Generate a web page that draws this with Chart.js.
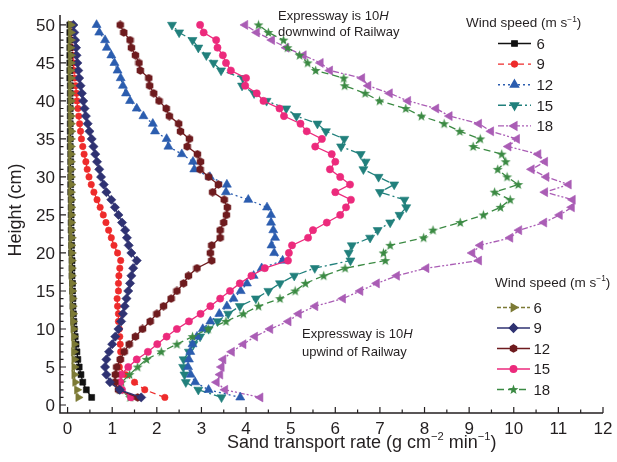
<!DOCTYPE html>
<html>
<head>
<meta charset="utf-8">
<script src="https://cdn.jsdelivr.net/npm/chart.js@4.4.1/dist/chart.umd.min.js"></script>
<style>
  html, body { margin: 0; padding: 0; background: #fff; }
  canvas { display: block; }
</style>
</head>
<body>
<canvas id="profile" width="617" height="462"></canvas>
<script>
// height above the surface (cm)
var heights = [1,2,3,4,5,6,7,8,9,10,11,12,13,14,15,16,17,18,19,20,21,22,23,24,25,
               26,27,28,29,30,31,32,33,34,35,36,37,38,39,40,41,42,43,44,45,46,47,48,49,50];

// sand transport rate (g cm-2 min-1), Expressway 10H downwind of Railway
var down6  = [0.54,0.42,0.34,0.30,0.26,0.23,0.21,0.19,0.17,0.15, 0.14,0.13,0.12,0.12,0.11,0.11,0.10,0.10,0.10,0.09,
              0.09,0.09,0.08,0.08,0.08,0.08,0.08,0.07,0.07,0.07, 0.07,0.07,0.07,0.06,0.06,0.06,0.06,0.06,0.06,0.06,
              0.06,0.06,0.05,0.05,0.05,0.05,0.05,0.05,0.05,0.05];
var down9  = [2.18,1.73,1.50,1.30,1.16,1.18,1.19,1.18,1.17,1.16, 1.14,1.14,1.12,1.11,1.14,1.14,1.15,1.17,1.19,1.12,
              1.04,0.98,0.92,0.86,0.80,0.73,0.66,0.59,0.53,0.48, 0.44,0.41,0.37,0.34,0.31,0.29,0.27,0.25,0.23,0.21,
              0.20,0.18,0.16,0.14,0.13,0.11,0.10,0.09,0.08,0.07];
var down12 = [3.87,3.16,2.86,2.76,2.70,2.72,2.75,2.80,2.90,3.03, 3.20,3.40,3.57,3.72,3.88,4.02,4.17,4.35,4.82,4.63,
              4.57,4.65,4.61,4.56,4.56,4.47,4.05,3.55,3.57,3.19, 2.84,2.81,2.56,2.26,2.22,1.96,1.91,1.70,1.55,1.40,
              1.31,1.24,1.19,1.12,1.05,0.98,0.88,0.84,0.71,0.65];
var down15 = [3.45,2.93,2.65,2.62,2.59,2.60,2.72,2.82,2.97,3.16, 3.36,3.60,3.86,4.22,4.50,4.76,5.08,5.54,6.34,6.30,
              6.37,6.78,6.95,7.23,7.44,7.59,7.55,7.00,7.32,6.97, 6.63,6.68,6.57,6.13,6.20,5.79,5.60,5.13,4.90,4.46,
              4.18,3.91,3.93,3.44,3.27,3.11,2.93,2.80,2.50,2.34];
var down18 = [4.32,3.53,3.34,3.42,3.45,3.49,3.68,3.94,4.20,4.54, 4.95,5.18,5.55,6.17,6.56,6.93,7.38,8.04,9.22,9.07,
              9.25,9.92,10.12,10.68,11.03,11.30,11.32,10.70,11.23,10.73, 10.40,10.70,10.55,9.88,10.07,9.49,9.22,8.56,8.26,7.63,
              7.22,6.74,6.60,5.88,5.67,5.29,4.90,4.58,4.24,3.98];

// sand transport rate (g cm-2 min-1), Expressway 10H upwind of Railway
var up6  = [0.24,0.21,0.17,0.15,0.15,0.15,0.14,0.15,0.14,0.13, 0.12,0.12,0.11,0.11,0.10,0.10,0.09,0.09,0.09,0.09,
            0.08,0.09,0.08,0.08,0.08,0.08,0.08,0.07,0.08,0.07, 0.08,0.07,0.07,0.07,0.07,0.08,0.07,0.07,0.07,0.07,
            0.07,0.07,0.07,0.06,0.07,0.07,0.06,0.07,0.07,0.07];
var up9  = [1.65,1.17,0.95,0.87,0.84,0.87,0.93,1.00,1.07,1.14, 1.20,1.24,1.28,1.32,1.36,1.40,1.43,1.47,1.55,1.43,
            1.37,1.33,1.29,1.22,1.14,1.06,0.98,0.87,0.81,0.75, 0.71,0.66,0.62,0.58,0.54,0.49,0.45,0.41,0.38,0.35,
            0.32,0.29,0.26,0.24,0.22,0.20,0.19,0.17,0.15,0.13];
var up12 = [1.57,1.14,1.06,1.07,1.10,1.18,1.27,1.38,1.52,1.68, 1.85,2.00,2.15,2.32,2.45,2.60,2.71,2.90,3.23,3.20,
            3.23,3.42,3.42,3.50,3.56,3.58,3.51,3.25,3.38,3.16, 2.97,2.98,2.91,2.68,2.73,2.53,2.49,2.28,2.21,2.05,
            1.93,1.84,1.82,1.63,1.60,1.52,1.43,1.40,1.26,1.18];
var up15 = [1.42,1.22,1.18,1.20,1.36,1.55,1.80,2.01,2.22,2.45, 2.72,2.98,3.20,3.42,3.64,3.86,4.12,4.42,4.94,4.96,
            5.03,5.39,5.50,5.81,6.11,6.24,6.35,6.00,6.33,6.11, 5.88,6.00,5.92,5.55,5.70,5.36,5.22,4.85,4.75,4.39,
            4.24,3.98,4.00,3.66,3.55,3.48,3.36,3.33,3.05,2.97];
var up18 = [1.40,1.18,1.21,1.39,1.57,1.77,2.10,2.45,2.80,3.15, 3.55,3.94,4.28,4.76,5.10,5.33,5.74,6.22,7.12,7.08,
            7.23,7.98,8.19,8.80,9.32,9.70,9.92,9.57,10.10,9.85, 9.64,9.82,9.73,9.09,9.25,8.79,8.44,7.93,7.58,6.99,
            6.67,6.21,6.19,5.56,5.38,5.20,4.93,4.84,4.50,4.28];

var windSpeeds = ['6', '9', '12', '15', '18'];
var xTicks = [0, 1, 2, 3, 4, 5, 6, 7, 8, 9, 10, 11, 12];
var yTicks = [0, 5, 10, 15, 20, 25, 30, 35, 40, 45, 50];

var FONT = '"Liberation Sans", Arial, Helvetica, sans-serif';
var INK = '#231f20';

// small bitmap markers for the shapes Chart.js has no built-in for
function makeMarker(size, color, path) {
  var c = document.createElement('canvas');
  c.width = size; c.height = size;
  var g = c.getContext('2d');
  g.fillStyle = color;
  g.beginPath();
  path(g, size / 2);
  g.closePath();
  g.fill();
  return c;
}
var hexagon = makeMarker(9, '#6e1b1e', function (g, m) {
  for (var i = 0; i < 6; i++) {
    var a = Math.PI / 6 + i * Math.PI / 3;
    g.lineTo(m + Math.cos(a) * 4.3, m + Math.sin(a) * 4.3);
  }
});
var star = makeMarker(11, '#3b8a43', function (g, m) {
  for (var i = 0; i < 10; i++) {
    var a = -Math.PI / 2 + i * Math.PI / 5;
    var r = i % 2 ? 2.1 : 5.2;
    g.lineTo(m + Math.cos(a) * r, m + 0.3 + Math.sin(a) * r);
  }
});

var downSeries = [
  { values: down6,  color: '#111111', dash: [],                 style: 'rect',     radius: 4.2, rotation: 0 },
  { values: down9,  color: '#ee2b2b', dash: [6, 4],             style: 'circle',   radius: 3.2, rotation: 0 },
  { values: down12, color: '#2b5daf', dash: [2, 3],             style: 'triangle', radius: 5.2, rotation: 0 },
  { values: down15, color: '#21807c', dash: [8, 3, 2, 3],       style: 'triangle', radius: 5.2, rotation: 180 },
  { values: down18, color: '#aa5db5', dash: [6, 2, 2, 2, 2, 2], style: 'triangle', radius: 5.2, rotation: -90 }
];
var upSeries = [
  { values: up6,  color: '#7c7a35', dash: [4, 2], style: 'triangle', radius: 4.8, rotation: 90 },
  { values: up9,  color: '#2f3272', dash: [],     style: 'rectRot',  radius: 4.6, rotation: 0 },
  { values: up12, color: '#6e1b1e', dash: [],     style: hexagon,    radius: 4.2, rotation: 0 },
  { values: up15, color: '#ec2a7c', dash: [],     style: 'circle',   radius: 3.6, rotation: 0 },
  { values: up18, color: '#3b8a43', dash: [7, 4], style: star,       radius: 5,   rotation: 0 }
];

function toDataset(s, i, group) {
  return {
    label: group + ' ' + windSpeeds[i],
    data: s.values.map(function (v, k) { return { x: v, y: heights[k] }; }),
    borderColor: s.color,
    backgroundColor: s.color,
    borderWidth: 1.3,
    borderDash: s.dash,
    pointStyle: s.style,
    pointRadius: s.radius,
    pointRotation: s.rotation,
    pointBackgroundColor: s.color,
    pointBorderColor: s.color,
    pointBorderWidth: 0.6,
    tension: 0,
    clip: false
  };
}

var datasets = upSeries.map(function (s, i) { return toDataset(s, i, 'upwind'); })
  .concat(downSeries.map(function (s, i) { return toDataset(s, i, 'downwind'); }));

// text with superscript / italic pieces, left aligned on a baseline
function drawRuns(ctx, runs, x, y, size) {
  ctx.textAlign = 'left';
  ctx.textBaseline = 'alphabetic';
  runs.forEach(function (r) {
    var s = r.sup ? size * 0.62 : size;
    ctx.font = (r.italic ? 'italic ' : '') + s + 'px ' + FONT;
    ctx.fillText(r.text, x, y - (r.sup ? size * 0.4 : 0));
    x += ctx.measureText(r.text).width;
  });
  return x;
}

function drawLegend(ctx, series, title, left, titleBase, lineX1, lineX2, textX, rowY, rowGap) {
  ctx.fillStyle = INK;
  drawRuns(ctx, [{ text: title }, { text: '\u22121', sup: true }, { text: ')' }], left, titleBase, 13.5);
  series.forEach(function (s, i) {
    var y = rowY + i * rowGap;
    ctx.save();
    ctx.strokeStyle = s.color;
    ctx.lineWidth = 1.4;
    ctx.setLineDash(s.dash);
    ctx.beginPath();
    ctx.moveTo(lineX1, y);
    ctx.lineTo(lineX2, y);
    ctx.stroke();
    ctx.setLineDash([]);
    ctx.fillStyle = s.color;
    ctx.strokeStyle = s.color;
    Chart.helpers.drawPoint(ctx, {
      pointStyle: s.style, radius: s.radius * 0.9, rotation: s.rotation, borderWidth: 0.6
    }, (lineX1 + lineX2) / 2, y);
    ctx.restore();
    ctx.fillStyle = INK;
    ctx.font = '15px ' + FONT;
    ctx.textAlign = 'left';
    ctx.textBaseline = 'alphabetic';
    ctx.fillText(windSpeeds[i], textX, y + 5.3);
  });
}

var frame = {
  id: 'frame',
  afterDatasetsDraw: function (chart) {
    var ctx = chart.ctx, xs = chart.scales.x, ys = chart.scales.y, a = chart.chartArea;
    ctx.save();
    ctx.setLineDash([]);
    ctx.strokeStyle = INK;

    // axis lines
    ctx.lineWidth = 1.5;
    ctx.beginPath();
    ctx.moveTo(a.left, a.top);
    ctx.lineTo(a.left, a.bottom);
    ctx.lineTo(a.right, a.bottom);
    ctx.stroke();

    // inward ticks: x major every 1, minor every 0.5
    ctx.lineWidth = 1.2;
    ctx.beginPath();
    xTicks.forEach(function (t, i) {
      var px = xs.getPixelForValue(t);
      ctx.moveTo(px, a.bottom); ctx.lineTo(px, a.bottom - 6);
      if (i < xTicks.length - 1) {
        var mx = (px + xs.getPixelForValue(xTicks[i + 1])) / 2;
        ctx.moveTo(mx, a.bottom); ctx.lineTo(mx, a.bottom - 3.5);
      }
    });
    // y major every 5, minor every 1
    yTicks.forEach(function (t, i) {
      var py = ys.getPixelForValue(t);
      ctx.moveTo(a.left, py); ctx.lineTo(a.left + 6, py);
      if (i < yTicks.length - 1) {
        var step = (ys.getPixelForValue(yTicks[i + 1]) - py) / 5;
        for (var k = 1; k < 5; k++) {
          ctx.moveTo(a.left, py + step * k); ctx.lineTo(a.left + 3.5, py + step * k);
        }
      }
    });
    ctx.stroke();

    // tick labels
    ctx.fillStyle = INK;
    ctx.font = '17px ' + FONT;
    ctx.textBaseline = 'alphabetic';
    ctx.textAlign = 'center';
    xTicks.forEach(function (t) {
      ctx.fillText(String(t), xs.getPixelForValue(t), 433.5);
    });
    ctx.textAlign = 'right';
    yTicks.forEach(function (t) {
      ctx.fillText(String(t), 55, ys.getPixelForValue(t) + 6);
    });

    // axis titles
    drawRuns(ctx, [
      { text: 'Sand transport rate (g cm' }, { text: '\u22122', sup: true },
      { text: ' min' }, { text: '\u22121', sup: true }, { text: ')' }
    ], 227, 447.5, 18);
    ctx.save();
    ctx.translate(21, 210);
    ctx.rotate(-Math.PI / 2);
    ctx.font = '18px ' + FONT;
    ctx.textAlign = 'center';
    ctx.fillText('Height (cm)', 0, 0);
    ctx.restore();

    // site notes
    ctx.fillStyle = INK;
    drawRuns(ctx, [{ text: 'Expressway is 10' }, { text: 'H', italic: true }], 278, 19.5, 13);
    drawRuns(ctx, [{ text: 'downwind of Railway' }], 278, 36, 13);
    drawRuns(ctx, [{ text: 'Expressway is 10' }, { text: 'H', italic: true }], 302, 338, 13);
    drawRuns(ctx, [{ text: 'upwind of Railway' }], 302, 356, 13);

    // legends
    drawLegend(ctx, downSeries, 'Wind speed (m s', 466, 27, 498, 531, 536.5, 43.5, 20.6);
    drawLegend(ctx, upSeries, 'Wind speed (m s', 495, 286.5, 497, 530, 533.5, 307.5, 20.5);

    ctx.restore();
  }
};

new Chart(document.getElementById('profile').getContext('2d'), {
  type: 'line',
  data: { datasets: datasets },
  options: {
    responsive: false,
    animation: false,
    events: [],
    layout: { padding: { left: 60, right: 14, top: 15, bottom: 49 } },
    plugins: { legend: { display: false }, tooltip: { enabled: false } },
    scales: {
      x: { type: 'linear', min: -0.17, max: 12, display: false },
      y: { type: 'linear', min: -1.05, max: 51.3, display: false }
    }
  },
  plugins: [frame]
});
</script>
</body>
</html>
